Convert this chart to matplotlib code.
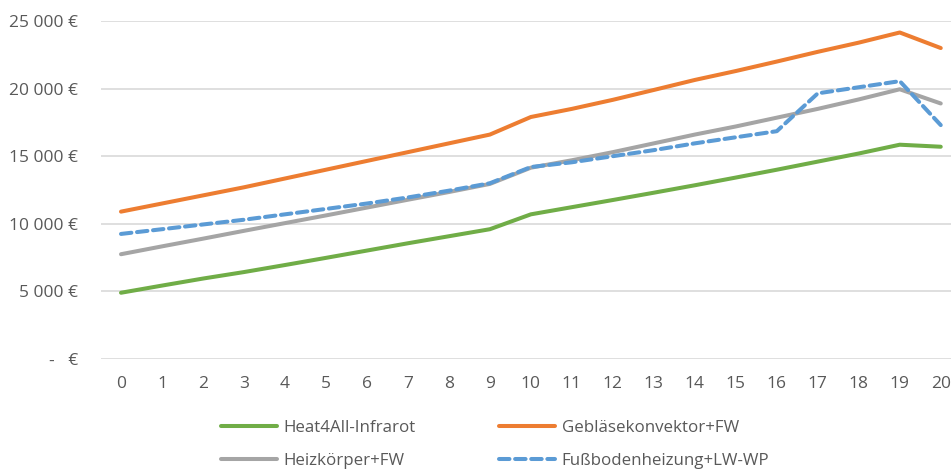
import matplotlib
matplotlib.use("Agg")
import matplotlib.pyplot as plt

years = list(range(0, 21))
heat4all = [4900, 5430, 5950, 6430, 6950, 7480, 8020, 8560, 9080, 9600, 10700,
            11230, 11760, 12300, 12850, 13420, 14000, 14600, 15200, 15850, 15700]
geblaese = [10900, 11500, 12100, 12700, 13350, 14000, 14650, 15300, 15950, 16600, 17900,
            18500, 19170, 19900, 20640, 21300, 22000, 22720, 23400, 24150, 23000]
heizkoerper = [7750, 8330, 8900, 9480, 10050, 10620, 11200, 11780, 12350, 12950, 14150,
               14700, 15300, 15950, 16600, 17200, 17850, 18500, 19200, 19950, 18900]
fussboden = [9250, 9600, 9950, 10300, 10700, 11100, 11500, 11950, 12450, 13000, 14200,
             14550, 15000, 15450, 15950, 16400, 16850, 19650, 20100, 20550, 17300]
y_ticks = [0, 5000, 10000, 15000, 20000, 25000]
y_labels = ["-   €", "5 000 €", "10 000 €", "15 000 €", "20 000 €", "25 000 €"]
labels = ["Heat4All-Infrarot", "Gebläsekonvektor+FW", "Heizkörper+FW", "Fußbodenheizung+LW-WP"]

plt.rcParams['font.family'] = ['Open Sans', 'DejaVu Sans']

W, H = 951, 471
fig = plt.figure(figsize=(W / 100, H / 100), dpi=100)
left, right, top, bottom = 100.5, 951, 21, 359
ax = fig.add_axes([left / W, 1 - bottom / H, (right - left) / W, (bottom - top) / H])

lw = 2.9
l1, = ax.plot(years, heat4all, color="#70AD47", lw=lw, solid_capstyle="round", solid_joinstyle="round")
l2, = ax.plot(years, geblaese, color="#ED7D31", lw=lw, solid_capstyle="round", solid_joinstyle="round")
l3, = ax.plot(years, heizkoerper, color="#A5A5A5", lw=lw, solid_capstyle="round", solid_joinstyle="round")
l4, = ax.plot(years, fussboden, color="#5B9BD5", lw=lw, dashes=(2.6, 1.4), dash_capstyle="round",
              solid_joinstyle="round")

ax.set_xlim(-0.5, 20.25)
ax.set_ylim(0, 25000)
ax.set_yticks(y_ticks)
ax.set_yticklabels(y_labels)
ax.set_xticks(years)
ax.set_xticklabels([str(y) for y in years])
ax.grid(axis="y", color="#D9D9D9", lw=1.2)
ax.set_axisbelow(True)
for s in ax.spines.values():
    s.set_visible(False)
ax.tick_params(axis="both", length=0, colors="#595959", labelsize=12.5)
ax.tick_params(axis="y", pad=16)
ax.tick_params(axis="x", pad=12)

# matplotlib fills legend column-wise: order so rows read like the reference
handles = [l1, l3, l2, l4]
leg_labels = [labels[0], labels[2], labels[1], labels[3]]
leg = fig.legend(handles, leg_labels, ncol=2, loc="upper left",
                 bbox_to_anchor=(221 / W, 1 - 420 / H), frameon=False,
                 handlelength=3.3, handletextpad=0.4, columnspacing=4.9,
                 labelspacing=0.98, borderpad=0, borderaxespad=0, fontsize=12.2)
for t in leg.get_texts():
    t.set_color("#595959")

fig.savefig("out.png", dpi=100)
